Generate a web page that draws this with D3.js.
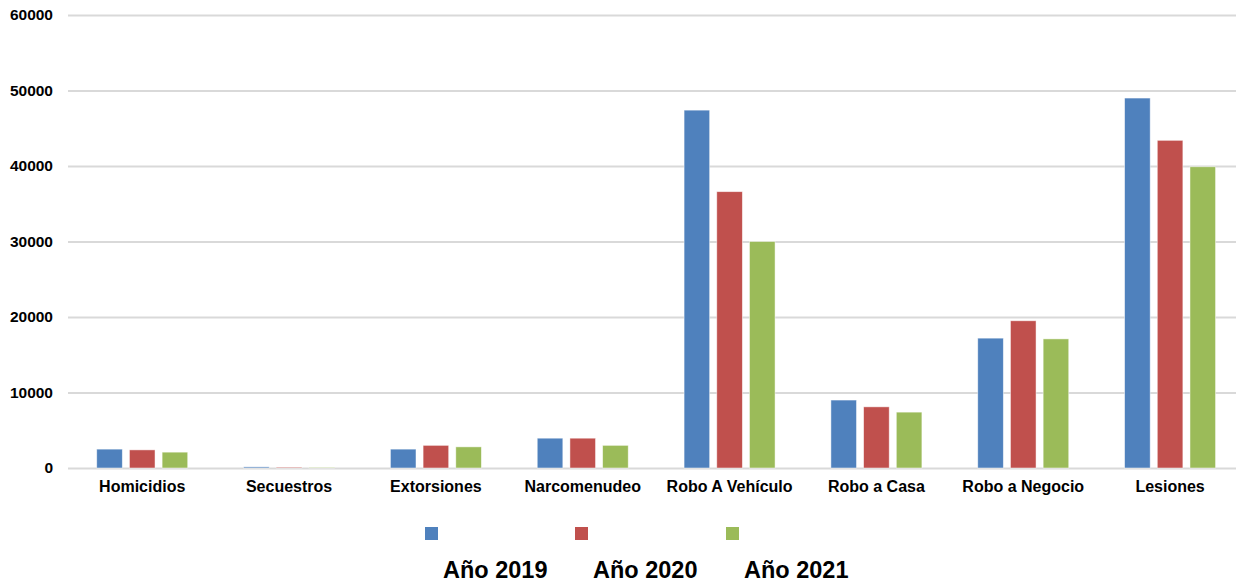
<!DOCTYPE html>
<html><head><meta charset="utf-8">
<script src="https://cdn.jsdelivr.net/npm/d3@7"></script>
<style>body{margin:0;background:#fff;font-family:"Liberation Sans",Arial,sans-serif;}</style>
</head><body><svg id="c" width="1236" height="585"></svg>
<script>
const categories = ["Homicidios","Secuestros","Extorsiones","Narcomenudeo","Robo A Vehículo","Robo a Casa","Robo a Negocio","Lesiones"];
const seriesNames = ["Año 2019","Año 2020","Año 2021"];
const values2019 = [2500, 150, 2500, 3950, 47400, 9000, 17200, 49000];
const values2020 = [2400, 110, 3000, 3950, 36600, 8100, 19500, 43400];
const values2021 = [2100, 80, 2800, 3000, 30000, 7400, 17100, 39900];
const yTicks = [0,10000,20000,30000,40000,50000,60000];
const colors = ["#4F81BD","#C0504D","#9BBB59"];

(function(){
const series = [values2019, values2020, values2021];
const svg = d3.select("#c");
const mLeft = 68, gridRight = 1236, bandRight = 1243.5, mTop = 15, mBottom = 468;
const y = d3.scaleLinear().domain([0,60000]).range([mBottom, mTop]);
const x = d3.scaleBand().domain(categories).range([68.8, bandRight]).paddingInner(0).paddingOuter(0);
const xs = d3.scaleBand().domain(seriesNames).range([0, x.bandwidth()]).paddingInner(0.217).paddingOuter(0.854);

const yAxis = d3.axisLeft(y).tickValues(yTicks).tickSize(-(gridRight-mLeft)).tickPadding(15).tickFormat(d3.format("d"));
const ga = svg.append("g").attr("transform",`translate(${mLeft},0)`).call(yAxis);
ga.select(".domain").remove();
ga.selectAll(".tick line").attr("stroke","#d9d9d9").attr("stroke-width",2);
ga.selectAll(".tick text").attr("font-size",15.5).attr("font-weight","bold").attr("fill","#000")
  .attr("font-family","'Liberation Sans',Arial,sans-serif");

series.forEach((vals,si)=>{
  svg.append("g").selectAll("rect").data(vals).join("rect")
    .attr("x",(d,i)=>x(categories[i])+xs(seriesNames[si]))
    .attr("y",d=>y(d))
    .attr("width",xs.bandwidth())
    .attr("height",d=>y(0)-y(d))
    .attr("fill",colors[si])
    .attr("stroke","rgba(255,255,255,0.6)").attr("stroke-width",0.8);
});

const xAxis = d3.axisBottom(x).tickSize(0).tickPadding(13);
const gx = svg.append("g").attr("transform",`translate(0,${mBottom})`).call(xAxis);
gx.select(".domain").remove();
gx.selectAll(".tick text").attr("font-size",16).attr("font-weight","bold").attr("fill","#000")
  .attr("font-family","'Liberation Sans',Arial,sans-serif");

const legX = [425, 575, 726];
seriesNames.forEach((n,i)=>{
  svg.append("rect").attr("x",legX[i]).attr("y",527).attr("width",13).attr("height",13).attr("fill",colors[i]);
  svg.append("text").attr("x",legX[i]+18).attr("y",578).text(n)
    .attr("font-size",23.5).attr("font-weight","bold").attr("fill","#000")
    .attr("font-family","'Liberation Sans',Arial,sans-serif");
});
})();
</script></body></html>
